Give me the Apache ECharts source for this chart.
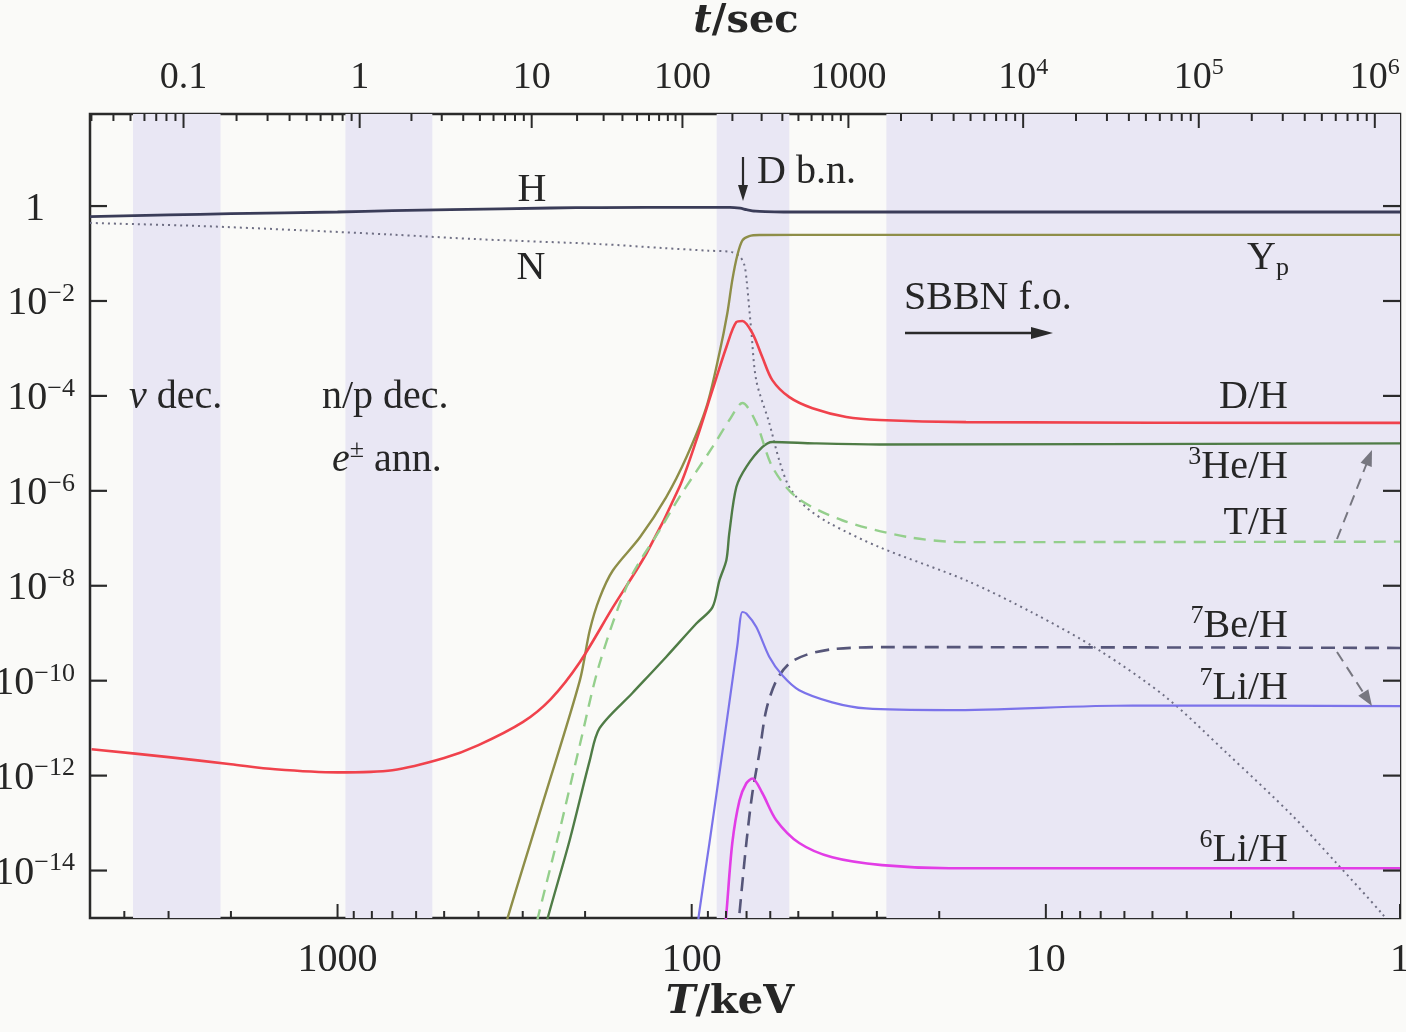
<!DOCTYPE html>
<html><head><meta charset="utf-8">
<script src="https://cdn.jsdelivr.net/npm/echarts@6/dist/echarts.min.js"></script>
<style>html,body{margin:0;padding:0;background:#fafaf8}#c{width:1406px;height:1032px}</style>
</head><body><div id="c"></div>
<script>
// ---------------- data (T in keV, abundance) ----------------
const H_curve = [[5000,0.60],[3000,0.65],[2000,0.69],[1000,0.75],[700,0.80],[480,0.84],[250,0.91],[180,0.93],[100,0.94],[78,0.94],[73,0.90],[70,0.84],[66,0.78],[62,0.76],[55,0.75],[1,0.75]];
const N_curve = [[5000,0.44],[2450,0.38],[1280,0.31],[700,0.25],[400,0.20],[182,0.158],[120,0.13],[90,0.115],[77,0.107],[73,0.085],[71,0.057],[70,0.028],[67.9,2.4e-3],[65.7,2.1e-4],[60.4,2.7e-5],[56.6,4.4e-6],[53,1.2e-6],[47.5,4.5e-7],[40.9,2.1e-7],[29.5,6.5e-8],[16.8,1.3e-8],[10.9,2.7e-9],[7.08,4.4e-10],[4.58,4.5e-11],[3.10,3.1e-12],[2.02,1.47e-13],[1.52,1.5e-14],[1.126,1.25e-15],[1.0,4e-16]];
const Yp_curve = [[349,2.1e-16],[331,1e-15],[262,3.0e-13],[207,1.0e-10],[194,1.15e-9],[182,5.5e-9],[167,2.1e-8],[140,1.05e-7],[118,7.4e-7],[103.5,5.1e-6],[90.9,5.8e-5],[83.5,8e-4],[79.3,5.6e-3],[76.8,0.0275],[74.3,0.093],[71.9,0.19],[68.8,0.233],[64.4,0.245],[40,0.247],[1,0.247]];
const DH_curve = [[4950,3.6e-12],[3000,2.45e-12],[2000,1.74e-12],[1500,1.36e-12],[1000,1.17e-12],[700,1.3e-12],[500,2.35e-12],[400,4.4e-12],[300,1.34e-11],[250,4.1e-11],[207,2.45e-10],[167,3.5e-9],[134,4.9e-8],[108.3,1.2e-6],[97,1.17e-5],[87.4,1.32e-4],[79.8,1.07e-3],[74.8,3.6e-3],[71.9,3.8e-3],[67.4,2.1e-3],[63.2,6.6e-4],[59.2,2.15e-4],[53,9.4e-5],[45.6,5.5e-5],[36.6,3.6e-5],[29.5,3.1e-5],[16.8,2.8e-5],[1,2.7e-5]];
const He3_curve = [[264,3.4e-16],[255,1e-15],[221,4.4e-14],[194,2.1e-12],[182,1.0e-11],[147,5.5e-11],[117.9,3.2e-10],[97,1.6e-9],[87.4,3.5e-9],[83.5,1.3e-8],[79.8,3.5e-8],[78.3,1.3e-7],[74.8,1.2e-6],[70.1,3.2e-6],[63.2,8.3e-6],[59.2,1.07e-5],[45,1.0e-5],[29.5,9.5e-6],[1,1.0e-5]];
const TH_curve = [[281,3.4e-16],[272,1e-15],[236,7e-14],[207,4.4e-12],[182,2.3e-10],[150,1.3e-8],[123,1.5e-7],[108.3,7.4e-7],[87.4,8.3e-6],[78.3,3.1e-5],[71.9,7.1e-5],[65.7,2.7e-5],[59.2,3.2e-6],[50.7,7.4e-7],[37.6,2.4e-7],[24.3,1.05e-7],[16.8,8.3e-8],[1,8.5e-8]];
const Li7_curve = [[96.4,5.5e-16],[95.3,1.26e-15],[89.1,3.8e-14],[83.5,1.12e-12],[78.3,3.4e-11],[74.3,5.6e-10],[71.9,2.8e-9],[70.1,2.6e-9],[65.7,1.35e-9],[60.4,3.2e-10],[55.5,1.3e-10],[49.7,6.3e-11],[40.1,3.5e-11],[32.2,2.6e-11],[18.75,2.4e-11],[5.71,3.0e-11],[1,2.9e-11]];
const Be7_curve = [[74.3,4.4e-16],[73.3,1.26e-15],[70.1,3.8e-14],[67.4,4.3e-13],[64.4,3.0e-12],[61.6,2.4e-11],[57.7,1.0e-10],[53,2.3e-10],[47.5,3.5e-10],[40.1,4.6e-10],[29,5.1e-10],[1,4.9e-10]];
const Li6_curve = [[80.9,4.4e-16],[79.8,1.26e-15],[76.8,3.8e-14],[73.3,3.0e-13],[70.1,6.9e-13],[67.4,8.7e-13],[63.2,4.3e-13],[57.7,1.15e-13],[49.7,3.8e-14],[40.1,1.9e-14],[29,1.3e-14],[18.75,1.12e-14],[1,1.12e-14]];

// shaded epochs (T ranges in keV)
const bandsT = [[3780,2140],[950,540],[85,53],[28.2,1]];

// ticks
const yTickValues = [1,1e-2,1e-4,1e-6,1e-8,1e-10,1e-12,1e-14];
const yTickLabels = ['1','10^−2','10^−4','10^−6','10^−8','10^−10','10^−12','10^−14'];
const bottomTickValues = [1000,100,10,1];
const bottomTickLabels = ['1000','100','10','1'];
const tTickLabels = ['0.1','1','10','100','1000','10^4','10^5','10^6'];
const tTickT = [2722,866,283,106.2,36.1,11.59,3.70,1.178]; // T (keV) where t = 0.1 ... 1e6 s

// ---------------- styling ----------------
const FONT = 'Liberation Serif';
const TXT = '#262626';
function rs(size, extra){ return Object.assign({fontFamily:FONT, fontSize:size, fill:TXT, color:TXT}, extra||{}); }
const RICH = {
  b: rs(40,{lineHeight:46}),
  bt: rs(38,{lineHeight:44}),
  i: rs(40,{lineHeight:46, fontStyle:'italic'}),
  sup: rs(26,{lineHeight:28, verticalAlign:'top'}),
  supt: rs(24,{lineHeight:26, verticalAlign:'top'}),
  sub: rs(26,{lineHeight:28, verticalAlign:'bottom'}),
  ax: {fontFamily:'DejaVu Serif', fontSize:40, fontWeight:'bold', lineHeight:46, fill:TXT, color:TXT},
  axi: {fontFamily:'DejaVu Serif', fontSize:40, fontWeight:'bold', fontStyle:'italic', lineHeight:46, fill:TXT, color:TXT}
};
function powLabel(s, base, sup){
  const p = s.split('^');
  return '{'+base+'|'+p[0]+'}' + (p.length>1 ? '{'+sup+'|'+p[1]+'}' : '');
}
function textEl(x, y, text, align, z){
  return {type:'text', x:x, y:y, z:z||30, silent:true,
    style:{text:text, rich:RICH, fill:TXT, font:'40px '+FONT,
      align:align||'left', verticalAlign:'middle', textAlign:align||'left', textVerticalAlign:'middle'}};
}
function arrowEls(x1,y1,x2,y2,color,dashed,L,W,lw){
  const dx=x2-x1, dy=y2-y1, len=Math.hypot(dx,dy), ux=dx/len, uy=dy/len;
  const bx=x2-ux*L, by=y2-uy*L;
  return [
    {type:'line', z:30, silent:true, shape:{x1:x1,y1:y1,x2:x2-ux*L*0.6,y2:y2-uy*L*0.6}, style:{stroke:color, lineWidth:lw||2.5, lineDash:dashed?[11,7]:null}},
    {type:'polygon', z:30, silent:true, shape:{points:[[x2,y2],[bx-uy*W,by+ux*W],[bx+uy*W,by-ux*W]]}, style:{fill:color}}
  ];
}

// tick position lists (axis decoration)
const bottomTicks = [];
bottomTickValues.forEach(v => bottomTicks.push([v, 14]));
for (let d=0; d<4; d++) for (let k=2; k<=9; k++){ const v=k*Math.pow(10,d); if (v<5000) bottomTicks.push([v,7]); }
const topTicks = [];
const LT = tTickT.map(Math.log10);
tTickT.forEach(v => topTicks.push([v, 14]));
for (let i=-1; i<LT.length; i++){
  let base, s;
  if (i===-1){ s = LT[1]-LT[0]; base = LT[0]-s; }
  else if (i===LT.length-1){ s = LT[i]-LT[i-1]; base = LT[i]; }
  else { s = LT[i+1]-LT[i]; base = LT[i]; }
  for (let k=2;k<=9;k++){ const T = Math.pow(10, base + Math.log10(k)*s); if (T<5000 && T>1) topTicks.push([T,7]); }
}

const STROKE = '#2a2a2a';
function lineSeries(name, data, color, width, type, z){
  return {name:name, type:'line', data:data, smooth:0.3, showSymbol:false, symbol:'none', z:z||3,
    lineStyle:{color:color, width:width, type:type||'solid'}, silent:true, clip:true};
}

const chart = echarts.init(document.getElementById('c'), null, {renderer:'canvas'});
const option = {
  backgroundColor:'#fafaf8',
  animation:false,
  grid:{left:90, right:6, top:114, bottom:114, show:true, borderColor:STROKE, borderWidth:2.5, backgroundColor:'rgba(0,0,0,0)'},
  xAxis:{type:'log', logBase:10, min:1, max:5000, inverse:true,
    axisLine:{show:false}, axisTick:{show:false}, axisLabel:{show:false}, splitLine:{show:false}},
  yAxis:{type:'log', logBase:10, min:1e-15, max:87,
    axisLine:{show:false}, axisTick:{show:false}, axisLabel:{show:false}, splitLine:{show:false}},
  series:[
    {type:'line', data:[[10,1e-30]], showSymbol:false, lineStyle:{opacity:0}, z:1, silent:true,
      markArea:{silent:true, itemStyle:{color:'#e9e7f4'}, data: bandsT.map(b=>[{xAxis:b[0]},{xAxis:b[1]}])}},
    lineSeries('H', H_curve, '#3a3c58', 2.8),
    lineSeries('N', N_curve, '#6f6f84', 2, [2,4]),
    lineSeries('Yp', Yp_curve, '#8e8e48', 2.4),
    lineSeries('D/H', DH_curve, '#f0424c', 2.6),
    lineSeries('3He/H', He3_curve, '#4f7c46', 2.4),
    lineSeries('T/H', TH_curve, '#94cf8c', 2.4, [12,8]),
    lineSeries('7Be/H', Be7_curve, '#565679', 2.6, [14,8]),
    lineSeries('7Li/H', Li7_curve, '#7b73ea', 2.2),
    lineSeries('6Li/H', Li6_curve, '#e23de6', 2.6),
    // y ticks + labels
    {type:'custom', coordinateSystem:'cartesian2d', silent:true, z:6, clip:false,
      data: yTickValues.map(v=>[10, v]),
      renderItem:function(params, api){
        const cs = params.coordSys;
        const v = api.value(1);
        const y = api.coord([10, v])[1];
        const lab = yTickLabels[params.dataIndex];
        const off = (v===1) ? 45 : 15;
        return {type:'group', children:[
          {type:'line', shape:{x1:cs.x, y1:y, x2:cs.x+17, y2:y}, style:{stroke:STROKE, lineWidth:2.2}},
          {type:'line', shape:{x1:cs.x+cs.width-17, y1:y, x2:cs.x+cs.width, y2:y}, style:{stroke:STROKE, lineWidth:2.2}},
          textEl(cs.x-off, y+3, powLabel(lab,'b','sup'), 'right', 6)
        ]};
      }},
    // bottom T ticks + labels
    {type:'custom', coordinateSystem:'cartesian2d', silent:true, z:6, clip:false,
      data: bottomTicks.map(t=>[t[0], 1, t[1]]),
      renderItem:function(params, api){
        const cs = params.coordSys;
        const x = api.coord([api.value(0), 1])[0];
        const len = api.value(2);
        const yb = cs.y+cs.height;
        const ch = [{type:'line', shape:{x1:x, y1:yb, x2:x, y2:yb-len}, style:{stroke:STROKE, lineWidth:2}}];
        if (params.dataIndex < bottomTickLabels.length) ch.push(textEl(x, yb+42, '{b|'+bottomTickLabels[params.dataIndex]+'}', 'center', 6));
        return {type:'group', children:ch};
      }},
    // top t ticks + labels
    {type:'custom', coordinateSystem:'cartesian2d', silent:true, z:6, clip:false,
      data: topTicks.map(t=>[t[0], 1, t[1]]),
      renderItem:function(params, api){
        const cs = params.coordSys;
        const x = api.coord([api.value(0), 1])[0];
        const len = api.value(2);
        const yt = cs.y;
        const ch = [{type:'line', shape:{x1:x, y1:yt, x2:x, y2:yt+len}, style:{stroke:STROKE, lineWidth:2}}];
        if (params.dataIndex < tTickLabels.length) ch.push(textEl(x, yt-36, powLabel(tTickLabels[params.dataIndex],'bt','supt'), 'center', 6));
        return {type:'group', children:ch};
      }}
  ],
  graphic:[].concat(
    [
      textEl(532, 190, '{b|H}', 'center'),
      textEl(531, 268, '{b|N}', 'center'),
      textEl(757, 172, '{b|D b.n.}', 'left'),
      textEl(1247, 258, '{b|Y}{sub|p}', 'left'),
      textEl(904, 298, '{b|SBBN f.o.}', 'left'),
      textEl(1288, 397, '{b|D/H}', 'right'),
      textEl(1288, 467, '{sup|3}{b|He/H}', 'right'),
      textEl(1288, 523, '{b|T/H}', 'right'),
      textEl(1288, 626, '{sup|7}{b|Be/H}', 'right'),
      textEl(1288, 688, '{sup|7}{b|Li/H}', 'right'),
      textEl(1288, 850, '{sup|6}{b|Li/H}', 'right'),
      textEl(129, 397, '{i|ν}{b| dec.}', 'left'),
      textEl(322, 397, '{b|n/p dec.}', 'left'),
      textEl(332, 460, '{i|e}{sup|±}{b| ann.}', 'left'),
      textEl(746, 22, '{axi|t}{ax|/sec}', 'center'),
      textEl(730, 1003, '{axi|T}{ax|/keV}', 'center')
    ],
    arrowEls(743, 157, 743, 201, '#2a2a2a', false, 16, 5, 2.2),
    arrowEls(905, 333, 1053, 333, '#2a2a2a', false, 22, 6, 2.6),
    arrowEls(1337, 539, 1372, 450, '#777780', true, 16, 6, 2),
    arrowEls(1337, 652, 1372, 706, '#777780', true, 16, 6, 2)
  )
};
chart.setOption(option);
</script>
</body></html>
